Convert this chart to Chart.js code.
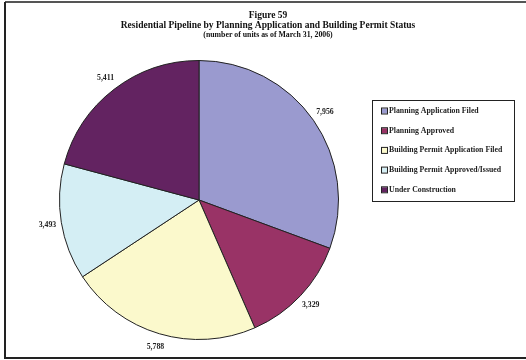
<!DOCTYPE html>
<html>
<head>
<meta charset="utf-8">
<script src="https://cdn.jsdelivr.net/npm/chart.js@4/dist/chart.umd.min.js"></script>
<style>
html,body{margin:0;padding:0;background:#fff;}
#wrap{position:relative;width:526px;height:360px;}
</style>
</head>
<body>
<div id="wrap"><canvas id="c" width="526" height="360"></canvas></div>
<script>
const categories = ["Planning Application Filed","Planning Approved","Building Permit Application Filed","Building Permit Approved/Issued","Under Construction"];
const units = [7956, 3329, 5788, 3493, 5411];
const sliceColors = ["#9a9acf", "#993366", "#fbf9cc", "#d4eef4", "#632361"];
const titleLines = ["Figure 59", "Residential Pipeline by Planning Application and Building Permit Status", "(number of units as of March 31, 2006)"];

const SERIF = '"Liberation Serif", "Times New Roman", serif';

const framePlugin = {
  id: 'frame',
  beforeDraw(chart) {
    const ctx = chart.ctx;
    ctx.save();
    ctx.fillStyle = '#fff';
    ctx.fillRect(0, 0, chart.width, chart.height);
    ctx.strokeStyle = '#555';
    ctx.lineWidth = 2;
    ctx.beginPath(); ctx.moveTo(5, 2); ctx.lineTo(526, 2); ctx.stroke();
    ctx.strokeStyle = '#222';
    ctx.beginPath(); ctx.moveTo(5, 2); ctx.lineTo(5, 358); ctx.lineTo(526, 358); ctx.stroke();
    // titles
    ctx.fillStyle = '#111';
    ctx.textAlign = 'center';
    ctx.textBaseline = 'middle';
    ctx.font = 'bold 9.5px ' + SERIF;
    ctx.fillText(titleLines[0], 268, 16);
    ctx.font = 'bold 9.5px ' + SERIF;
    ctx.fillText(titleLines[1], 268, 26);
    ctx.font = 'bold 7.8px ' + SERIF;
    ctx.fillText(titleLines[2], 268, 35);
    ctx.restore();
  },
  afterDraw(chart) {
    const ctx = chart.ctx;
    const meta = chart.getDatasetMeta(0);
    const ds = chart.data.datasets[0];
    ctx.save();
    // value labels outside slices
    ctx.fillStyle = '#222';
    ctx.font = 'bold 7.8px ' + SERIF;
    ctx.textAlign = 'center';
    ctx.textBaseline = 'middle';
    meta.data.forEach((arc, i) => {
      const p = arc.getProps(['x','y','startAngle','endAngle','outerRadius'], true);
      const mid = (p.startAngle + p.endAngle) / 2;
      const r = p.outerRadius + 14;
      const v = ds.data[i].toLocaleString('en-US');
      ctx.fillText(v, p.x + Math.cos(mid) * r, p.y + Math.sin(mid) * r);
    });
    // legend box
    const bx = 372, by = 100, bw = 142, bh = 101;
    ctx.strokeStyle = '#222';
    ctx.lineWidth = 1;
    ctx.strokeRect(bx + 0.5, by + 0.5, bw, bh);
    ctx.textAlign = 'left';
    ctx.font = 'bold 7.8px ' + SERIF;
    chart.data.labels.forEach((lab, i) => {
      const y = 111 + i * 19.7;
      ctx.fillStyle = ds.backgroundColor[i];
      ctx.fillRect(382, y - 2.5, 5, 5);
      ctx.strokeStyle = '#222';
      ctx.strokeRect(381.5, y - 3, 6, 6);
      ctx.fillStyle = '#222';
      ctx.fillText(lab, 389, y);
    });
    ctx.restore();
  }
};

new Chart(document.getElementById('c'), {
  type: 'pie',
  data: {
    labels: categories,
    datasets: [{
      data: units,
      backgroundColor: sliceColors,
      borderColor: '#222',
      borderWidth: 1
    }]
  },
  options: {
    responsive: false,
    animation: false,
    layout: { padding: { left: 59, right: 187, top: 60, bottom: 20 } },
    plugins: {
      legend: { display: false },
      title: { display: false },
      tooltip: { enabled: false }
    }
  },
  plugins: [framePlugin]
});
</script>
</body>
</html>
